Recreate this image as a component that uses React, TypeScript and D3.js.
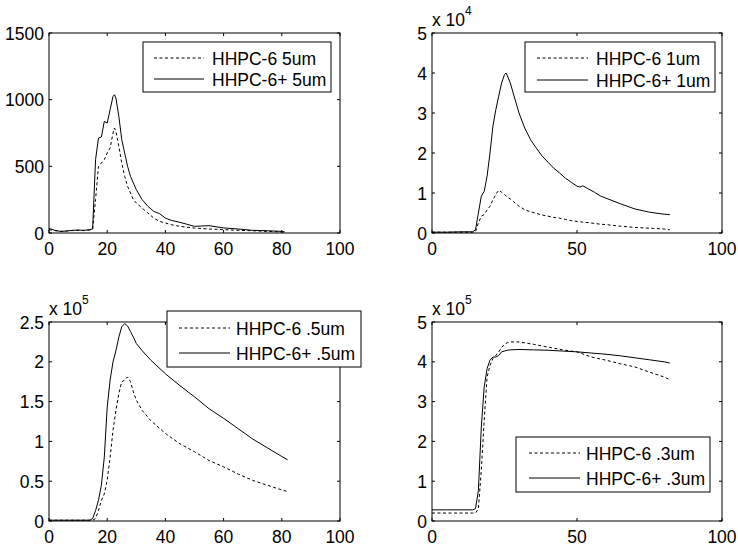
import React from "react";
import * as d3 from "d3";

// ---------- DATA ----------
const p1X = [0, 2, 4, 6, 8, 10, 12, 14, 15, 16, 17, 18, 19, 20, 21, 22, 22.5, 23, 24, 25, 26, 27, 28, 29, 30, 32, 34, 36, 38, 40, 42, 45, 50, 55, 60, 65, 70, 75, 80, 81];
const p1Dashed = [25, 18, 12, 15, 18, 20, 18, 22, 30, 250, 500, 525, 550, 600, 637, 750, 787, 762, 650, 525, 425, 350, 300, 250, 225, 187, 150, 112, 87, 75, 62, 50, 37, 30, 25, 20, 17, 12, 8, 5];
const p1Solid = [35, 20, 12, 15, 20, 22, 20, 25, 30, 550, 712, 720, 837, 825, 925, 1025, 1037, 1012, 875, 700, 600, 500, 425, 375, 325, 250, 200, 162, 145, 112, 95, 80, 50, 55, 38, 30, 20, 17, 12, 8];

const p2X = [0, 5, 10, 14, 15, 16, 17, 18, 19, 20, 21, 22, 23, 24, 25, 25.5, 26, 27, 28, 29, 30, 32, 34, 36, 38, 40, 42, 44, 46, 48, 50, 51, 52, 54, 56, 58, 60, 65, 70, 75, 80, 82];
const p2Dashed = [0.02, 0.02, 0.02, 0.02, 0.03, 0.25, 0.42, 0.46, 0.58, 0.67, 0.83, 0.96, 1.07, 1.02, 0.96, 0.93, 0.9, 0.85, 0.79, 0.73, 0.67, 0.58, 0.53, 0.49, 0.45, 0.42, 0.39, 0.37, 0.34, 0.31, 0.29, 0.28, 0.27, 0.26, 0.24, 0.22, 0.21, 0.17, 0.14, 0.12, 0.1, 0.08];
const p2Solid = [0.02, 0.02, 0.03, 0.03, 0.08, 0.5, 0.92, 1.04, 1.42, 2.0, 2.67, 3.08, 3.42, 3.75, 3.96, 4.0, 3.93, 3.75, 3.5, 3.25, 3.0, 2.62, 2.33, 2.12, 1.92, 1.77, 1.62, 1.5, 1.37, 1.27, 1.17, 1.15, 1.18, 1.1, 1.02, 0.93, 0.87, 0.73, 0.6, 0.52, 0.47, 0.46];

const p3X = [0, 5, 10, 14, 15, 16, 17, 18, 19, 20, 21, 22, 23, 24, 25, 26, 27, 28, 29, 30, 32, 35, 40, 45, 50, 55, 60, 65, 70, 75, 80, 82];
const p3Dashed = [0.01, 0.01, 0.01, 0.01, 0.01, 0.03, 0.13, 0.26, 0.34, 0.51, 0.8, 1.14, 1.39, 1.6, 1.75, 1.77, 1.81, 1.75, 1.62, 1.52, 1.39, 1.26, 1.1, 0.97, 0.87, 0.76, 0.68, 0.59, 0.51, 0.45, 0.39, 0.37];
const p3Solid = [0.01, 0.01, 0.01, 0.01, 0.03, 0.13, 0.26, 0.45, 0.8, 1.43, 1.77, 2.0, 2.14, 2.31, 2.44, 2.48, 2.45, 2.38, 2.31, 2.23, 2.14, 2.02, 1.85, 1.7, 1.56, 1.41, 1.29, 1.16, 1.03, 0.92, 0.81, 0.77];

const p4X = [0, 5, 10, 14, 15, 16, 17, 18, 19, 20, 21, 22, 23, 24, 25, 26, 27, 30, 35, 40, 45, 50, 55, 60, 65, 70, 75, 80, 82];
const p4Dashed = [0.2, 0.2, 0.2, 0.2, 0.2, 0.31, 1.27, 2.53, 3.62, 3.91, 4.08, 4.16, 4.25, 4.36, 4.44, 4.48, 4.5, 4.5, 4.44, 4.37, 4.3, 4.25, 4.12, 4.04, 3.95, 3.87, 3.74, 3.62, 3.55];
const p4Solid = [0.28, 0.28, 0.28, 0.28, 0.31, 0.77, 2.36, 3.37, 3.83, 4.04, 4.12, 4.12, 4.16, 4.25, 4.27, 4.29, 4.3, 4.31, 4.3, 4.29, 4.27, 4.25, 4.22, 4.19, 4.15, 4.1, 4.05, 4.0, 3.97];

const xTicks100by20 = [0, 20, 40, 60, 80, 100];
const xTicks100by50 = [0, 50, 100];
const yTicksP1 = [0, 500, 1000, 1500];
const yTicksP2 = [0, 1, 2, 3, 4, 5];
const yTicksP3 = [0, 0.5, 1, 1.5, 2, 2.5];
const yTicksP4 = [0, 1, 2, 3, 4, 5];

const legendP1 = ["HHPC-6 5um", "HHPC-6+ 5um"];
const legendP2 = ["HHPC-6 1um", "HHPC-6+ 1um"];
const legendP3 = ["HHPC-6 .5um", "HHPC-6+ .5um"];
const legendP4 = ["HHPC-6 .3um", "HHPC-6+ .3um"];

const FONT = "'Liberation Sans', Arial, sans-serif";
const FS = 17.5;

type PanelCfg = {
  left: number; top: number; width: number; height: number;
  yMax: number; xTicks: number[]; yTicks: number[];
  x: number[]; dashed: number[]; solid: number[];
  exponent?: string;
  legend: string[];
  lg: { x0: number; y0: number; x1: number; y1: number; s0: number; s1: number; tx: number; r0: number; r1: number };
};

const panels: PanelCfg[] = [
  { left: 49, top: 33, width: 291, height: 200, yMax: 1500, xTicks: xTicks100by20, yTicks: yTicksP1, x: p1X, dashed: p1Dashed, solid: p1Solid, legend: legendP1,
    lg: { x0: 143, y0: 42, x1: 331, y1: 92, s0: 154, s1: 204, tx: 212, r0: 58, r1: 79 } },
  { left: 432, top: 33, width: 290, height: 200, yMax: 5, xTicks: xTicks100by50, yTicks: yTicksP2, x: p2X, dashed: p2Dashed, solid: p2Solid, exponent: "4", legend: legendP2,
    lg: { x0: 525, y0: 42, x1: 715, y1: 92, s0: 537, s1: 588, tx: 596, r0: 58, r1: 80 } },
  { left: 49, top: 322, width: 291, height: 199, yMax: 2.5, xTicks: xTicks100by20, yTicks: yTicksP3, x: p3X, dashed: p3Dashed, solid: p3Solid, exponent: "5", legend: legendP3,
    lg: { x0: 167, y0: 311, x1: 361, y1: 367, s0: 179, s1: 230, tx: 236, r0: 328, r1: 353 } },
  { left: 432, top: 322, width: 290, height: 199, yMax: 5, xTicks: xTicks100by50, yTicks: yTicksP4, x: p4X, dashed: p4Dashed, solid: p4Solid, exponent: "5", legend: legendP4,
    lg: { x0: 516, y0: 437, x1: 710, y1: 492, s0: 529, s1: 580, tx: 586, r0: 453, r1: 478 } },
];

function Panel({ p }: { p: PanelCfg }) {
  const xs = d3.scaleLinear().domain([0, 100]).range([p.left, p.left + p.width]);
  const ys = d3.scaleLinear().domain([0, p.yMax]).range([p.top + p.height, p.top]);
  const line = d3.line<number>().x((_, i) => xs(p.x[i])).y((v) => ys(v));
  const bottom = p.top + p.height;
  const right = p.left + p.width;
  const tl = 3;
  return (
    <g>
      <rect x={p.left} y={p.top} width={p.width} height={p.height} fill="white" />
      <path d={line(p.dashed) || ""} fill="none" stroke="#000" strokeWidth={1} strokeDasharray="3,2.5" />
      <path d={line(p.solid) || ""} fill="none" stroke="#000" strokeWidth={1} />
      <rect x={p.left} y={p.top} width={p.width} height={p.height} fill="none" stroke="#000" strokeWidth={1} />
      {p.xTicks.map((t) => (
        <g key={"x" + t}>
          <line x1={xs(t)} x2={xs(t)} y1={bottom} y2={bottom - tl} stroke="#000" />
          <line x1={xs(t)} x2={xs(t)} y1={p.top} y2={p.top + tl} stroke="#000" />
          <text x={xs(t)} y={bottom + 22} textAnchor="middle" fontSize={FS} fontFamily={FONT}>{String(t)}</text>
        </g>
      ))}
      {p.yTicks.map((t) => (
        <g key={"y" + t}>
          <line x1={p.left} x2={p.left + tl} y1={ys(t)} y2={ys(t)} stroke="#000" />
          <line x1={right} x2={right - tl} y1={ys(t)} y2={ys(t)} stroke="#000" />
          <text x={p.left - 5} y={ys(t) + 6.5} textAnchor="end" fontSize={FS} fontFamily={FONT}>{String(t)}</text>
        </g>
      ))}
      {p.exponent && (
        <text x={p.left} y={p.top - 7} fontSize={FS} fontFamily={FONT}>
          x 10<tspan dy={-11} fontSize={12}>{p.exponent}</tspan>
        </text>
      )}
      <rect x={p.lg.x0} y={p.lg.y0} width={p.lg.x1 - p.lg.x0} height={p.lg.y1 - p.lg.y0} fill="white" stroke="#000" strokeWidth={1} />
      <line x1={p.lg.s0} x2={p.lg.s1} y1={p.lg.r0} y2={p.lg.r0} stroke="#000" strokeDasharray="3,2.5" />
      <line x1={p.lg.s0} x2={p.lg.s1} y1={p.lg.r1} y2={p.lg.r1} stroke="#000" />
      <text x={p.lg.tx} y={p.lg.r0 + 6.5} fontSize={FS} fontFamily={FONT}>{p.legend[0]}</text>
      <text x={p.lg.tx} y={p.lg.r1 + 6.5} fontSize={FS} fontFamily={FONT}>{p.legend[1]}</text>
    </g>
  );
}

export default function App() {
  return (
    <svg width={738} height={548} style={{ position: "absolute", left: 0, top: 0, background: "white" }}>
      <rect width={738} height={548} fill="white" />
      {panels.map((p, i) => <Panel key={i} p={p} />)}
    </svg>
  );
}
